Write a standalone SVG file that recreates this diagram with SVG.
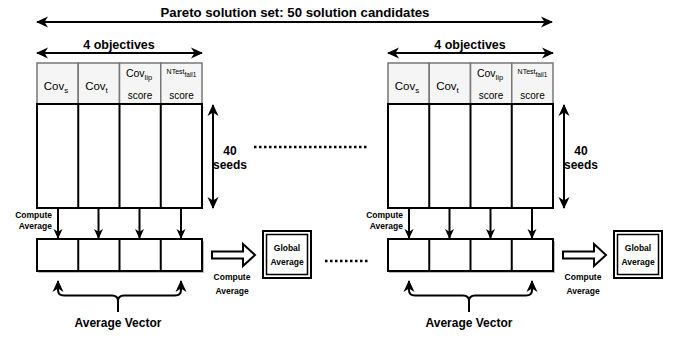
<svg xmlns="http://www.w3.org/2000/svg" width="678" height="337" viewBox="0 0 678 337">
<style>
text{font-family:"Liberation Sans",Arial,Helvetica,sans-serif;fill:#000}
.b{font-weight:bold}
.hdr{fill:#f5f5f5;stroke:#777;stroke-width:1.5}
.cell{fill:#fff;stroke:#000;stroke-width:2}
.ln{fill:none;stroke:#000;stroke-width:2}
.dot{fill:none;stroke:#000;stroke-width:2.5;stroke-dasharray:2.5 2.5}
</style>
<defs>
<marker id="ah" markerUnits="userSpaceOnUse" markerWidth="13" markerHeight="13" viewBox="0 0 13 13" refX="11" refY="6.5" orient="auto-start-reverse">
<path d="M0,1 L12,6.5 L0,12 L3.5,6.5 Z" fill="#000"/>
</marker>
<marker id="ahs" markerUnits="userSpaceOnUse" markerWidth="11" markerHeight="11" viewBox="0 0 11 11" refX="10" refY="5.5" orient="auto-start-reverse">
<path d="M0,1 L10,5.5 L0,10 L2.8,5.5 Z" fill="#000"/>
</marker>
<g id="block">
<g id="hdrs">
<rect class="hdr" x="37" y="63" width="41.25" height="41"/>
<rect class="hdr" x="78.25" y="63" width="41.25" height="41"/>
<rect class="hdr" x="119.5" y="63" width="41.25" height="41"/>
<rect class="hdr" x="160.75" y="63" width="41.25" height="41"/>
<text x="56" y="90" font-size="11.5" text-anchor="middle">Cov<tspan font-size="8" dy="3">s</tspan></text>
<text x="96.5" y="90" font-size="11.5" text-anchor="middle">Cov<tspan font-size="8" dy="3">t</tspan></text>
<text x="139" y="77" font-size="10.5" text-anchor="middle">Cov<tspan font-size="7.5" dy="2.5">lip</tspan></text>
<text x="140" y="99" font-size="10" text-anchor="middle">score</text>
<text x="181.5" y="74" font-size="7" text-anchor="middle">NTest<tspan font-size="6.5" dy="2.5">fail1</tspan></text>
<text x="181.5" y="99" font-size="10" text-anchor="middle">score</text>
</g>
<g id="body">
<rect class="cell" x="37" y="104" width="165" height="104"/>
<line class="ln" x1="78.25" y1="104" x2="78.25" y2="208"/>
<line class="ln" x1="119.5" y1="104" x2="119.5" y2="208"/>
<line class="ln" x1="160.75" y1="104" x2="160.75" y2="208"/>
</g>
<g id="avg">
<rect x="38" y="241" width="166" height="32" fill="#bbb"/>
<rect class="cell" x="37" y="239" width="165" height="32"/>
<line class="ln" x1="78.25" y1="239" x2="78.25" y2="271"/>
<line class="ln" x1="119.5" y1="239" x2="119.5" y2="271"/>
<line class="ln" x1="160.75" y1="239" x2="160.75" y2="271"/>
</g>
<g id="links">
<line class="ln" x1="37" y1="53" x2="202" y2="53" marker-start="url(#ah)" marker-end="url(#ah)"/>
<line class="ln" x1="213" y1="105" x2="213" y2="208" marker-start="url(#ah)" marker-end="url(#ah)"/>
<line class="ln" x1="58" y1="208" x2="58" y2="239" stroke-width="1.5" marker-end="url(#ahs)"/>
<line class="ln" x1="98.5" y1="208" x2="98.5" y2="239" stroke-width="1.5" marker-end="url(#ahs)"/>
<line class="ln" x1="139.5" y1="208" x2="139.5" y2="239" stroke-width="1.5" marker-end="url(#ahs)"/>
<line class="ln" x1="181" y1="208" x2="181" y2="239" stroke-width="1.5" marker-end="url(#ahs)"/>
<path class="ln" d="M212,251.5 H243 V244 L255,255 L243,266 V258.5 H212 Z" stroke-width="1.8"/>
<path class="ln" d="M58,281 V290 Q58,295.5 64,295.5 H112 Q118,295.5 118,301 Q118,295.5 124,295.5 H175 Q181,295.5 181,290 V281" marker-start="url(#ah)" marker-end="url(#ah)"/>
<line class="ln" x1="118" y1="298" x2="118" y2="312"/>
</g>
<g id="labels">
<text class="b" x="119" y="49" font-size="12.5" text-anchor="middle">4 objectives</text>
<text class="b" x="230" y="155" font-size="12" text-anchor="middle">40</text>
<text class="b" x="230" y="169" font-size="12" text-anchor="middle">seeds</text>
<text class="b" x="52" y="218" font-size="8.5" text-anchor="end">Compute</text>
<text class="b" x="52" y="229" font-size="8.5" text-anchor="end">Average</text>
<text class="b" x="232" y="280" font-size="8.5" text-anchor="middle">Compute</text>
<text class="b" x="232" y="294" font-size="8.5" text-anchor="middle">Average</text>
<text class="b" x="118" y="327" font-size="12" text-anchor="middle">Average Vector</text>
</g>
<g id="global">
<rect x="263" y="231" width="48" height="47" fill="#fff" stroke="#000" stroke-width="2"/>
<rect x="266.5" y="234.5" width="41" height="40" fill="none" stroke="#000" stroke-width="1.5"/>
<text class="b" x="287" y="251" font-size="8.5" text-anchor="middle">Global</text>
<text class="b" x="287" y="265" font-size="8.5" text-anchor="middle">Average</text>
</g>
</g>
</defs>
<g id="top">
<line class="ln" x1="37" y1="22" x2="552" y2="22" marker-start="url(#ah)" marker-end="url(#ah)"/>
<text class="b" x="295" y="17" font-size="13.2" text-anchor="middle">Pareto solution set: 50 solution candidates</text>
</g>
<g id="candidate1"><use href="#block"/></g>
<g id="candidate50"><use href="#block" transform="translate(351,0)"/></g>
<g id="ellipsis">
<line class="dot" x1="254" y1="147" x2="369" y2="147"/>
<line class="dot" x1="325" y1="261" x2="369" y2="261"/>
</g>
</svg>
